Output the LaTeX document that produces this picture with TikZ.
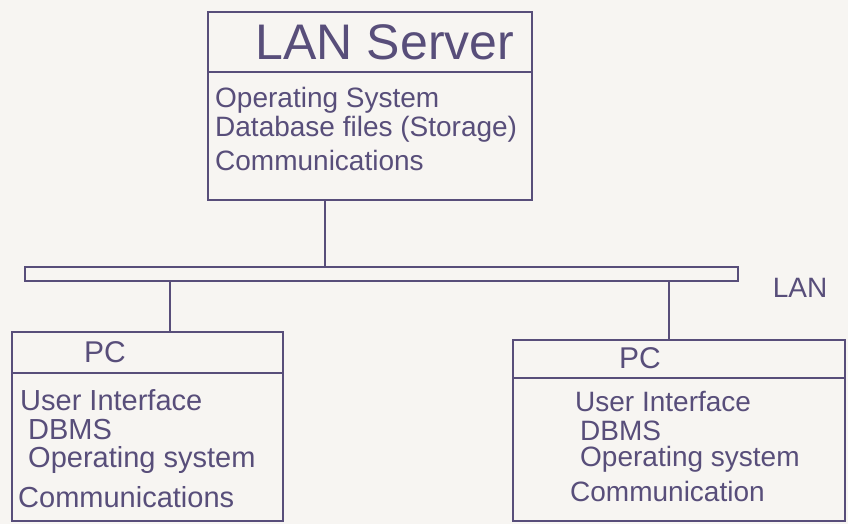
\documentclass[tikz,border=0pt]{standalone}
\usepackage{fontspec}
\setmainfont{Liberation Sans}
\usetikzlibrary{calc}
\definecolor{inkc}{RGB}{88,78,122}
\definecolor{paper}{RGB}{247,245,242}
\begin{document}
\begin{tikzpicture}[x=1pt,y=-1pt,
  box/.style={draw=inkc, line width=1.8pt, inner sep=0pt},
  conn/.style={draw=inkc, line width=1.8pt},
  body/.style={anchor=west, inner sep=0pt, text=inkc, font=\fontsize{28}{32}\selectfont},
  title/.style={inner sep=0pt, text=inkc, font=\fontsize{30}{34}\selectfont}]
\useasboundingbox (0,0) rectangle (848,524);
\fill[paper] (0,0) rectangle (848,524);
% boxes
\node[box, minimum width=324pt, minimum height=188pt] (server) at (370,106) {};
\node[box, minimum width=271pt, minimum height=189pt] (pcl) at (147.5,426.5) {};
\node[box, minimum width=332pt, minimum height=181pt] (pcr) at (679,430.5) {};
\node[box, minimum width=713pt, minimum height=14pt] (bus) at (381.5,274) {};
% dividers
\draw[conn] (server.west |- 0,72) -- (server.east |- 0,72);
\draw[conn] (pcl.west |- 0,373) -- (pcl.east |- 0,373);
\draw[conn] (pcr.west |- 0,378) -- (pcr.east |- 0,378);
% connectors
\coordinate (s1) at ($(server.south west)!0.361!(server.south east)$);
\draw[conn] (s1) -- (s1 |- bus.north);
\coordinate (b1) at ($(bus.south west)!0.2045!(bus.south east)$);
\draw[conn] (b1) -- (b1 |- pcl.north);
\coordinate (b2) at ($(bus.south west)!0.902!(bus.south east)$);
\draw[conn] (b2) -- (b2 |- pcr.north);
% texts
\node[inner sep=0pt, text=inkc, font=\fontsize{50}{56}\selectfont] (stitle) at (385,42) {LAN Server};
\node[body] (s2) at (215,100) {Operating System};
\node[body] (s3) at (215,129) {Database files (Storage)};
\node[body] (s4) at (215,160) {Communications};
\node[title] (ltitle) at (105,352) {PC};
\node[body, font=\fontsize{29}{33}\selectfont] (l1) at (20,400) {User Interface};
\node[body, font=\fontsize{29}{33}\selectfont] (l2) at (28,430) {DBMS};
\node[body, font=\fontsize{29}{33}\selectfont] (l3) at (28,460) {Operating system};
\node[body, font=\fontsize{29}{33}\selectfont] (l4) at (18,497) {Communications};
\node[title] (rtitle) at (640,358) {PC};
\node[body] (r1) at (575,402) {User Interface};
\node[body] (r2) at (580,431) {DBMS};
\node[body] (r3) at (580,459) {Operating system};
\node[body] (r4) at (570,491) {Communication};
\node[title, font=\fontsize{28}{32}\selectfont] (lan) at (800,288) {LAN};
\end{tikzpicture}
\end{document}
